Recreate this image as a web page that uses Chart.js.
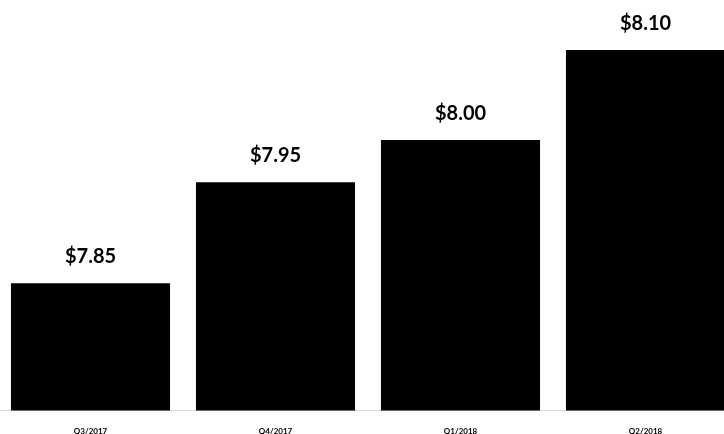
<!DOCTYPE html>
<html>
<head>
<meta charset="utf-8">
<script src="https://cdn.jsdelivr.net/npm/chart.js@4/dist/chart.umd.min.js"></script>
<style>
  html, body { margin: 0; padding: 0; background: #fff; overflow: hidden; height: 434px; }
  #wrap { position: absolute; left: -2px; top: 0; width: 740px; height: 452px; }
</style>
</head>
<body>
<div id="wrap"><canvas id="priceChart"></canvas></div>
<script>
// quarters and price per quarter
var quarters = ['Q3/2017', 'Q4/2017', 'Q1/2018', 'Q2/2018'];
var prices = [7.846, 7.9546, 7.9998, 8.0966];

// y range of the visible plot
var yMin = 7.7094;
var yMax = 8.1503;

// draws "$x.xx" above each bar
var valueLabels = {
    id: 'valueLabels',
    afterDatasetsDraw: function (chart) {
        var ctx = chart.ctx;
        var meta = chart.getDatasetMeta(0);
        ctx.save();
        ctx.fillStyle = '#000';
        ctx.font = 'bold 20px Lato, "Open Sans", sans-serif';
        ctx.textAlign = 'center';
        ctx.textBaseline = 'alphabetic';
        meta.data.forEach(function (bar, i) {
            ctx.fillText('$' + prices[i].toFixed(2), bar.x, bar.y - 20);
        });
        ctx.restore();
    }
};

new Chart(document.getElementById('priceChart').getContext('2d'), {
    type: 'bar',
    data: {
        labels: quarters,
        datasets: [{
            data: prices,
            backgroundColor: '#000',
            borderWidth: 0,
            categoryPercentage: 1,
            barPercentage: 0.86
        }]
    },
    options: {
        responsive: true,
        maintainAspectRatio: false,
        animation: false,
        layout: { padding: 0 },
        plugins: {
            legend: { display: false },
            tooltip: { enabled: false }
        },
        scales: {
            x: {
                grid: { display: false, drawTicks: false },
                border: { display: true, color: '#d9d9d9', width: 1 },
                ticks: {
                    color: '#000',
                    padding: 16,
                    font: { family: 'Lato, "Open Sans", sans-serif', size: 8, weight: 'bold' }
                }
            },
            y: {
                display: false,
                min: yMin,
                max: yMax
            }
        }
    },
    plugins: [valueLabels]
});
</script>
</body>
</html>
